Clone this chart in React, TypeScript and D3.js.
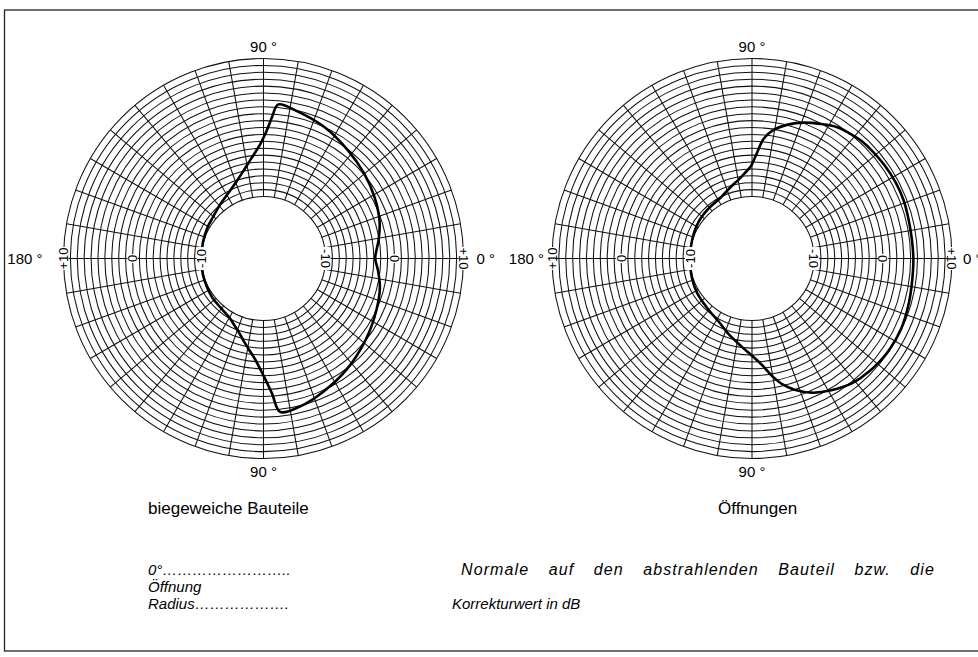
import React, { useRef, useEffect } from "react";
import * as d3 from "d3";

// Winkel (Grad, gegen den Uhrzeigersinn ab 0° rechts) und Korrekturwerte in dB
const biegeweichAngles = [0, 5, 9, 18, 29, 40, 52, 65, 77, 84.5, 86.5, 88.5, 91.6, 97.7, 104, 109, 118, 128, 140, 151, 165, 180, 195, 207, 218, 228, 240, 245, 251, 256, 261, 265.3, 270, 273.6, 276.2, 284, 294, 307, 322, 335.5, 346, 354];
const biegeweichValues = [-2.8, -2.5, -2.1, -1.3, -0.6, 0.1, 0.9, 2.0, 2.9, 3.45, 1.6, -0.4, -2.4, -4.6, -6.2, -7.1, -8.2, -8.9, -9.5, -9.7, -9.9, -10, -9.9, -9.8, -9.65, -9.55, -9.1, -8.6, -7.8, -6.8, -5.6, -4.3, -2.0, 0.6, 3.38, 3.1, 2.2, 1.1, -0.1, -1.0, -1.6, -2.3];

const oeffnungAngles = [0, 7, 14, 21, 28, 35, 42, 47, 52, 57, 63, 69, 75, 80.5, 84.5, 87.5, 91, 95, 99, 104, 111, 118, 132, 146, 163, 180, 197, 212, 228, 244, 252, 258, 264, 270, 275, 280, 284, 288, 294, 301, 309, 316, 326, 335, 344, 352];
const oeffnungValues = [4.4, 4.35, 4.4, 4.55, 4.57, 4.5, 4.4, 4.3, 4.0, 3.7, 2.9, 2.1, 1.1, -0.1, -1.6, -3.8, -5.7, -6.6, -7.3, -7.9, -8.6, -9.1, -9.4, -9.6, -9.9, -10, -9.85, -9.6, -9.3, -8.5, -7.6, -6.9, -6.0, -4.9, -3.6, -1.6, -0.1, 1.0, 2.3, 3.3, 4.2, 4.6, 4.9, 4.9, 4.65, 4.45];

const ringTicks = [-10, 0, 10];
const ringTickLabels = ["-10", "0", "+10"];
const gridAngles = d3.range(0, 360, 10);
const gridRings = d3.range(-10, 11, 1);
const chartTitles = ["biegeweiche Bauteile", "Öffnungen"];

const charts = [
  { cx: 263.5, angles: biegeweichAngles, values: biegeweichValues, title: chartTitles[0], titleX: 148, leftGap: 21, rightGap: 13 },
  { cx: 752, angles: oeffnungAngles, values: oeffnungValues, title: chartTitles[1], titleX: 718, leftGap: 8, rightGap: 11 },
];

const FONT = "'Liberation Sans', Arial, Helvetica, sans-serif";

const App = () => {
  const svgRef = useRef<SVGSVGElement>(null);

  useEffect(() => {
    if (!svgRef.current) return;
    const svg = d3.select(svgRef.current);
    svg.selectAll("*").remove();

    const cy = 258.5;
    const rScale = d3.scaleLinear().domain([-10, 10]).range([62, 200]);
    const aScale = d3.scaleLinear().domain([0, 360]).range([Math.PI / 2, Math.PI / 2 - 2 * Math.PI]);

    svg.append("rect")
      .attr("x", 4.5).attr("y", 10)
      .attr("width", 1000).attr("height", 641)
      .attr("fill", "white")
      .attr("stroke", "#222")
      .attr("stroke-width", 1.3);

    charts.forEach((c) => {
      const g = svg.append("g").attr("transform", `translate(${c.cx},${cy})`);

      g.selectAll(".ring")
        .data(gridRings)
        .enter().append("circle")
        .attr("r", (d) => rScale(d))
        .attr("fill", "none")
        .attr("stroke", "#111")
        .attr("stroke-width", 1.05);

      g.selectAll(".spoke")
        .data(gridAngles)
        .enter().append("line")
        .attr("x1", (d) => d3.pointRadial(aScale(d), rScale(-10))[0])
        .attr("y1", (d) => d3.pointRadial(aScale(d), rScale(-10))[1])
        .attr("x2", (d) => d3.pointRadial(aScale(d), rScale(10))[0])
        .attr("y2", (d) => d3.pointRadial(aScale(d), rScale(10))[1])
        .attr("stroke", "#111")
        .attr("stroke-width", 1.05);

      const pts = c.angles.map((a, i) => [a, c.values[i]] as [number, number]);
      const line = d3.lineRadial<[number, number]>()
        .angle((d) => aScale(d[0]))
        .radius((d) => rScale(d[1]))
        .curve(d3.curveCatmullRomClosed.alpha(0.5));

      g.append("path")
        .attr("d", line(pts))
        .attr("fill", "none")
        .attr("stroke", "#000")
        .attr("stroke-width", 2.6)
        .attr("stroke-linejoin", "miter");

      // ring labels on the horizontal axis
      [1, -1].forEach((side) => {
        ringTicks.forEach((t, i) => {
          const lbl = ringTickLabels[i];
          const lg = g.append("g")
            .attr("transform", `translate(${side * rScale(t)},0) rotate(${side * 90})`);
          const w = lbl.length * 7 + 2;
          lg.append("rect")
            .attr("x", -w / 2).attr("y", -5)
            .attr("width", w).attr("height", 10)
            .attr("fill", "white");
          lg.append("text")
            .attr("text-anchor", "middle")
            .attr("dy", "0.36em")
            .style("font-family", FONT)
            .style("font-size", "13px")
            .text(lbl);
        });
      });

      const ang = (txt: string, x: number, y: number, anchor: string) =>
        g.append("text")
          .attr("x", x).attr("y", y)
          .attr("dy", "0.36em")
          .attr("text-anchor", anchor)
          .style("font-family", FONT)
          .style("font-size", "15px")
          .text(txt);

      ang("90 °", 0, -rScale(10) - 12, "middle");
      ang("90 °", 0, rScale(10) + 13, "middle");
      ang("180 °", -rScale(10) - c.leftGap, 0, "end");
      ang("0 °", rScale(10) + c.rightGap, 0, "start");

      svg.append("text")
        .attr("x", c.titleX).attr("y", 514)
        .style("font-family", FONT)
        .style("font-size", "17px")
        .text(c.title);
    });

    const note = (txt: string, x: number, y: number) =>
      svg.append("text")
        .attr("x", x).attr("y", y)
        .style("font-family", FONT)
        .style("font-style", "italic")
        .style("font-size", "15px")
        .text(txt);

    note("0°" + "…".repeat(8) + "..", 148, 575);
    note("Öffnung", 148, 592);
    note("Radius" + "…".repeat(6) + ".", 148, 609);
    // Blocksatz: erste Zeile bis zum rechten Rand gestreckt
    const normale = note("Normale auf den abstrahlenden Bauteil bzw. die", 461, 575)
      .style("font-size", "16px")
      .style("letter-spacing", "1.1px");
    const natural = (normale.node() as SVGTextElement).getComputedTextLength();
    normale.attr("word-spacing", `${Math.max(0, (935 - 461 - natural) / 6)}px`);
    note("Korrekturwert in dB", 452, 609);
  }, []);

  return (
    <svg
      ref={svgRef}
      width={978}
      height={657}
      style={{ position: "absolute", left: 0, top: 0, background: "white" }}
    />
  );
};

export default App;
